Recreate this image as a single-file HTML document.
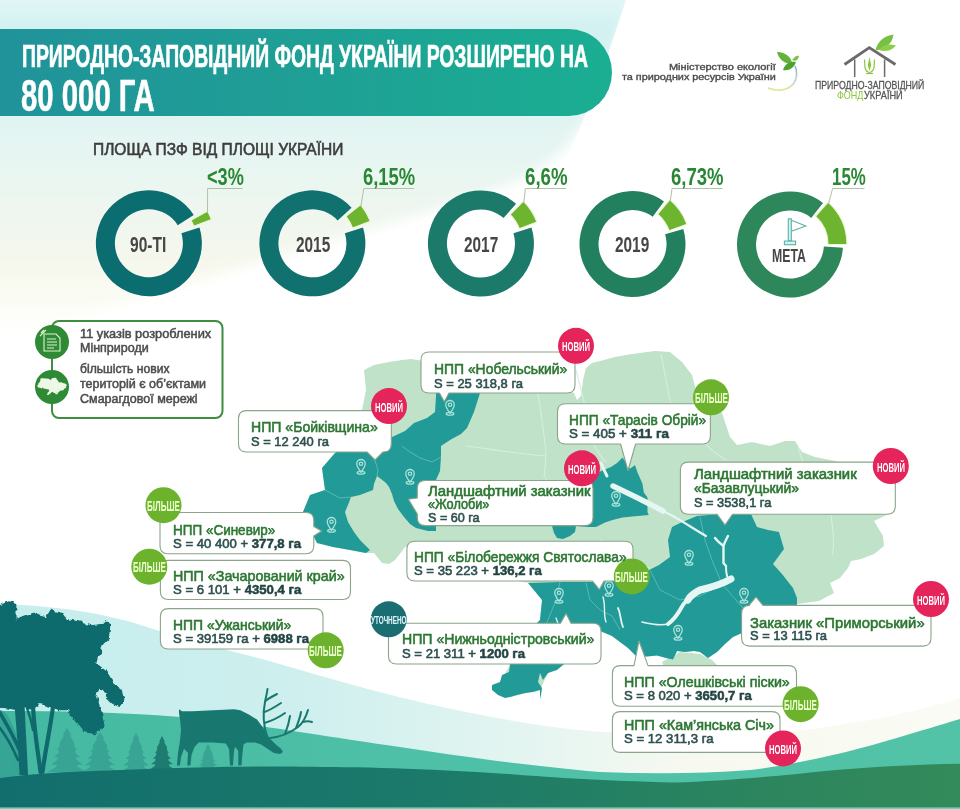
<!DOCTYPE html>
<html lang="uk"><head><meta charset="utf-8">
<title>Природно-заповідний фонд України розширено на 80 000 га</title>
<style>
*{margin:0;padding:0;box-sizing:border-box}
html,body{width:960px;height:809px;overflow:hidden;background:#fff}
body{position:relative;font-family:"Liberation Sans", "DejaVu Sans", sans-serif}
svg.full{position:absolute;left:0;top:0}
.t{position:absolute;white-space:nowrap;line-height:1;transform-origin:0 0}
.t b{font-weight:bold;color:#1f3f3d}
.banner{position:absolute;left:0;top:28.5px;width:612px;height:87px;border-radius:0 44px 44px 0;
  background:linear-gradient(90deg,#20939a 0%,#1f9e96 45%,#1aae92 100%)}
</style></head><body>
<svg class="full" width="960" height="809" viewBox="0 0 960 809">
<defs>
<linearGradient id="bgc" x1="0" y1="0" x2="0" y2="340" gradientUnits="userSpaceOnUse">
<stop offset="0" stop-color="#e2f6f6"/><stop offset="0.08" stop-color="#d2f1f1"/><stop offset="0.45" stop-color="#e6f5f2"/><stop offset="0.8" stop-color="#f7f8ec"/><stop offset="1" stop-color="#fbfbf3" stop-opacity="0"/>
</linearGradient>
<filter id="soft" x="-10%" y="-10%" width="120%" height="120%"><feGaussianBlur stdDeviation="6"/></filter>
<clipPath id="bgclip"><path d="M0,0 L626,0 L596,90 L560,175 L0,420 Z"/></clipPath>
</defs>
<g clip-path="url(#bgclip)"><path d="M-20,-20 L640,-20 L600,90 C585,130 560,160 520,180 C420,220 250,260 -20,350 Z" fill="url(#bgc)" filter="url(#soft)"/></g>
<path d="M193.7,215.0 A53,53 0 1 0 199.5,227.6 L181.4,233.3 A34,34 0 1 1 177.7,225.2 Z" fill="#0b6d6f"/>
<path d="M211.5,219.5 A67,67 0 0 0 207.6,211.0 L191.0,220.2 A48,48 0 0 1 193.8,226.3 Z" fill="#6db52f" stroke="#eef7d8" stroke-width="1.2"/>
<polyline points="207.5,213.0 207.6,188.5 242.5,188.5" fill="none" stroke="#b4c0a6" stroke-width="1"/>
<path d="M351.6,207.7 A53,53 0 1 0 363.0,227.6 L344.9,233.3 A34,34 0 1 1 337.6,220.5 Z" fill="#10716f"/>
<path d="M370.4,221.3 A62,62 0 0 0 360.7,204.5 L345.9,216.4 A43,43 0 0 1 352.6,228.1 Z" fill="#6db52f" stroke="#eef7d8" stroke-width="1.2"/>
<polyline points="360.9,206.4 363.8,188.5 414.0,188.5" fill="none" stroke="#b4c0a6" stroke-width="1"/>
<path d="M516.1,203.8 A53,53 0 1 0 531.5,227.6 L513.4,233.3 A34,34 0 1 1 503.5,218.0 Z" fill="#1b7a69"/>
<path d="M537.0,222.0 A60,60 0 0 0 523.4,201.1 L510.0,214.5 A41,41 0 0 1 519.3,228.8 Z" fill="#6db52f" stroke="#eef7d8" stroke-width="1.2"/>
<polyline points="523.8,202.9 525.4,188.5 566.1,188.5" fill="none" stroke="#b4c0a6" stroke-width="1"/>
<path d="M664.0,201.4 A53,53 0 1 0 683.3,228.9 L665.1,234.3 A34,34 0 1 1 652.7,216.7 Z" fill="#22805f"/>
<path d="M687.0,224.2 A58,58 0 0 0 669.8,199.6 L657.6,214.1 A39,39 0 0 1 669.1,230.7 Z" fill="#6db52f" stroke="#eef7d8" stroke-width="1.2"/>
<polyline points="670.3,201.3 672.0,188.5 722.5,188.5" fill="none" stroke="#b4c0a6" stroke-width="1"/>
<path d="M823.0,203.0 A53,53 0 1 0 842.9,247.7 L823.9,246.6 A34,34 0 1 1 811.2,217.9 Z" fill="#2d875a"/>
<path d="M847.0,244.5 A57,57 0 0 0 828.1,202.1 L815.4,216.3 A38,38 0 0 1 828.0,244.5 Z" fill="#6db52f" stroke="#eef7d8" stroke-width="1.2"/>
<polyline points="828.5,203.9 832.6,188.5 864.5,188.5" fill="none" stroke="#b4c0a6" stroke-width="1"/>
<g stroke="#5fb0a6" stroke-width="1.1" fill="#d2f4ef"><rect x="788.3" y="218.8" width="3" height="22"/><path d="M791.4,220.2 L805.8,226 L791.4,231.2" fill="none"/><rect x="784.4" y="241.1" width="11.2" height="3.6"/></g>
<rect x="52" y="321" width="170.5" height="97" rx="7" fill="#fff" stroke="#3f8d3f" stroke-width="2"/>
<circle cx="52" cy="342" r="17" fill="#2f8a35"/>
<circle cx="52" cy="387" r="17" fill="#2f8a35"/>
<g fill="none" stroke="#dff3d2" stroke-width="1.1"><path d="M44,334 L56,334 L60,338 L60,351 L44,351 Z"/><path d="M47,339 L56,339 M47,342 L57,342 M47,345 L57,345 M47,348 L54,348"/><path d="M40,336 L46,330 M41,333 L44,330"/></g>
<path d="M364,370 L374,365 L389,362 L402,360 L411,359 L430,362 L480,364 L530,372 L574,393 L577,400 L581,396 L583,380 L586,368 L592,363 L600,361 L615,357 L632,354 L655,351 L670,352 L682,362 L692,375 L696,390 L706,400 L716,405 L722,413 L726,425 L730,437 L737,445 L752,442 L770,446 L785,441 L795,441 L802,452 L815,457 L835,461 L860,466 L880,478 L893,495 L893,512 L874,521 L883,536 L884,546 L874,554 L861,559 L851,561 L848,568 L840,578 L830,583 L834,593 L819,601 L797,604 L780,606 L760,612 L748,622 L744,625 L742,633 L733,637 L725,644 L717,652 L708,658 L700,652 L694,651 L685,652 L677,651 L673,659.6 L668,658.5 L657,655.4 L647,656.5 L636,656 L628,648 L620,642 L612,636 L600,631 L590,640 L575,655 L563,665 L548,673 L540,690 L510,697 L492,690 L500,682 L510,665 L505,655 L520,640 L540,620 L542,600 L530,583 L500,578 L460,572 L430,566 L406,546 L395,560 L389,564 L382,563 L374,553 L366,553 L350,550 L333,547 L317,543 L313,535 L303,512 L310,495 L325,490 L322,468 L335,453 L345,445 L360,420 L366,390 Z" fill="#eef8e6" transform="translate(22.10,360.25) scale(0.05)"/>
<path d="M662,662 L680,652 L700,654 L712,660 L720,668 L700,680 L670,680 Z" fill="#eef8e6" transform="translate(22.10,360.25) scale(0.05)"/>
<defs><linearGradient id="arcg" x1="0" y1="0" x2="0" y2="1"><stop offset="0" stop-color="#8fb0c8"/><stop offset="0.6" stop-color="#b8d6e0"/><stop offset="1" stop-color="#e2e889"/></linearGradient></defs>
<path d="M795,66 C799,76 795,86 786,89 C780,91 773,90 768,88" fill="none" stroke="url(#arcg)" stroke-width="1.6"/>
<path d="M777,52 C786,52 792,58 792,64 C785,64 779,60 777,52 Z" fill="#63b33a"/>
<path d="M783,70 C785,63 791,61 796,62 C794,68 789,71 783,70 Z" fill="#4ea32f"/>
<path d="M792,60 C795,56 797,55 799,56 C798,60 796,62 792,60 Z" fill="#7cc14a"/>
<path d="M844.5,64.5 L869.3,47.6 L895.5,64.5" fill="none" stroke="#6a6a6a" stroke-width="2.8" stroke-linejoin="miter"/>
<path d="M854.7,59.5 L854.7,77 M884.6,59.5 L884.6,77" stroke="#6a6a6a" stroke-width="1.5"/>
<g fill="none" stroke="#8cc63f" stroke-width="1.2"><path d="M864.5,59.5 L865,68 Q866.5,72 869.5,72.5 Q872.5,72 874,68 L874.5,59.5"/><path d="M866,73.5 L873,73.5"/></g>
<path d="M869.5,57 L871.2,65 L869.5,71 L867.8,65 Z" fill="#8cc63f"/>
<path d="M875.5,50.5 C877,42 884,35.5 893.5,34.5 C892.5,43 886,49.5 875.5,50.5 Z" fill="#78c043"/>
<path d="M879,50 C883,44.5 889.5,43.5 896,45.5 C891.5,51 885,52 879,50 Z" fill="#8ccf4c"/>
<linearGradient id="skyg" x1="0" y1="0" x2="1" y2="0">
<stop offset="0" stop-color="#c6eded"/><stop offset="0.3" stop-color="#cdefee"/><stop offset="0.55" stop-color="#e4f5f1"/><stop offset="0.72" stop-color="#f7f9f0"/><stop offset="1" stop-color="#fafbf4"/></linearGradient>
<linearGradient id="hillg" x1="0" y1="0" x2="1" y2="0">
<stop offset="0" stop-color="#45b8a1"/><stop offset="0.4" stop-color="#4ec0a7"/><stop offset="1" stop-color="#52c3a6"/></linearGradient>
<linearGradient id="groundg" x1="0" y1="0" x2="1" y2="0">
<stop offset="0" stop-color="#116e6d"/><stop offset="0.45" stop-color="#1b7a6a"/><stop offset="0.75" stop-color="#2a845f"/><stop offset="1" stop-color="#338a5a"/></linearGradient>
<path d="M0,604 C60,606 110,614 150,628 C200,645 240,652 290,667 C380,694 470,716 560,728 C650,738 740,738 820,728 C880,720 930,708 960,698 L960,809 L0,809 Z" fill="url(#skyg)"/>
<path d="M0,711 C60,711 120,712 180,717 C260,724 300,733 400,747 C460,756 520,765 600,772 C650,774 700,774 750,770 C800,764 850,752 900,737 C930,728 950,722 960,719 L960,809 L0,809 Z" fill="url(#hillg)"/>
<path d="M0,712 C8,716 14,724 18,740 L20,775 L0,778 Z" fill="#36a494"/>
<path d="M67.0,728.0 L71.4,735.3 L62.6,735.3 Z M67.0,730.9 L74.3,742.7 L59.7,742.7 Z M67.0,738.3 L77.2,750.0 L56.8,750.0 Z M67.0,745.6 L80.2,757.3 L53.8,757.3 Z M67.0,752.9 L83.1,764.7 L50.9,764.7 Z M67.0,760.3 L86.0,772.0 L48.0,772.0 Z M60.2,741.2 L73.8,741.2 L78.4,772.0 L55.6,772.0 Z" fill="#37a494"/>
<path d="M100.0,732.0 L104.2,738.7 L95.8,738.7 Z M100.0,734.7 L106.9,745.3 L93.1,745.3 Z M100.0,741.3 L109.7,752.0 L90.3,752.0 Z M100.0,748.0 L112.5,758.7 L87.5,758.7 Z M100.0,754.7 L115.2,765.3 L84.8,765.3 Z M100.0,761.3 L118.0,772.0 L82.0,772.0 Z M93.5,744.0 L106.5,744.0 L110.8,772.0 L89.2,772.0 Z" fill="#37a494"/>
<path d="M136.0,733.0 L139.5,739.5 L132.5,739.5 Z M136.0,735.6 L141.8,746.0 L130.2,746.0 Z M136.0,742.1 L144.1,752.5 L127.9,752.5 Z M136.0,748.6 L146.4,759.0 L125.6,759.0 Z M136.0,755.1 L148.7,765.5 L123.3,765.5 Z M136.0,761.6 L151.0,772.0 L121.0,772.0 Z M130.6,744.7 L141.4,744.7 L145.0,772.0 L127.0,772.0 Z" fill="#37a494"/>
<path d="M162.0,736.0 L165.0,741.7 L159.0,741.7 Z M162.0,738.3 L167.0,747.3 L157.0,747.3 Z M162.0,743.9 L169.0,753.0 L155.0,753.0 Z M162.0,749.6 L171.0,758.7 L153.0,758.7 Z M162.0,755.3 L173.0,764.3 L151.0,764.3 Z M162.0,760.9 L175.0,770.0 L149.0,770.0 Z M157.3,746.2 L166.7,746.2 L169.8,770.0 L154.2,770.0 Z" fill="#1e7b72"/>
<path d="M208.0,744.0 L210.5,748.3 L205.5,748.3 Z M208.0,745.7 L212.2,752.7 L203.8,752.7 Z M208.0,750.1 L213.9,757.0 L202.1,757.0 Z M208.0,754.4 L215.6,761.3 L200.4,761.3 Z M208.0,758.7 L217.3,765.7 L198.7,765.7 Z M208.0,763.1 L219.0,770.0 L197.0,770.0 Z M204.0,751.8 L212.0,751.8 L214.6,770.0 L201.4,770.0 Z" fill="#37a494"/>
<path d="M0,778 C30,774 60,772 120,770 C200,767 260,766 300,766.7 C360,767 420,768 508,774 C560,778 600,780.6 675,782.5 C720,781 780,776 825,771 C870,767 920,764 960,763.7 L960,809 L0,809 Z" fill="url(#groundg)"/>
<rect x="0" y="807.4" width="960" height="1.6" fill="#78cfb6"/>
<filter id="rough" x="-5%" y="-5%" width="110%" height="110%"><feTurbulence type="fractalNoise" baseFrequency="0.18" numOctaves="2" seed="3"/><feDisplacementMap in="SourceGraphic" scale="5" xChannelSelector="R" yChannelSelector="G"/></filter>
<path d="M-6,611 L0,606 L5,604 L9,602 L15.5,603.5 L16,621 L23,616.6 L32.5,613.5 L40,616.6 L46.4,618 L51,610.5 L54,612 L61.8,613.5 L66.5,619.7 L74,621.3 L83.5,622.8 L92.7,626 L102,624.4 L106.6,622 L109.7,624.4 L108.2,638.3 L102,644.5 L99,655.3 L94.3,661.5 L99,666 L106.6,672.3 L112.8,683 L120.6,689.3 L123.6,700 L119,706.3 L112.8,703.2 L106.6,697 L108.2,692.4 L99,687.7 L95.8,695.5 L101.3,713.6 L103.8,726 L94,733.4 L84,731 L71.7,716 L69.6,709.4 L58.7,709.4 L51,706.3 L40.2,703.2 L30.9,707.8 L23.2,706.3 L15.5,709.4 L7.7,707.8 L-6,706.3 Z" fill="#106a6d" stroke="#106a6d" stroke-width="1.5" stroke-linejoin="round" filter="url(#rough)"/>
<path d="M0,710 C6,712 10,716 13,730 L14,774 L0,776 Z" fill="#37a596"/>
<path d="M14.5,704 C16,726 18.5,750 19.5,775 L28,775 C27,750 25.5,728 24.5,704 Z" fill="#106a6d"/>
<g fill="none" stroke="#106a6d" stroke-linecap="round"><path d="M33,705 C34,730 38,752 40.5,772" stroke-width="4.2"/><path d="M53,707 C50,730 45,752 42.5,772" stroke-width="4.2"/><path d="M0,713 C7,725 14,737 19,749" stroke-width="3.6"/><path d="M0,728 C6,736 12,746 18,760" stroke-width="2.6"/><path d="M27,708 C30,716 32,724 33,730" stroke-width="2.4"/></g>
<path d="M179,709.2 L182,711.3 L192.5,711.3 L213,710.2 L234,709.2 L240.4,710.2 L248.8,714.4 L257,719.6 L263.3,728 L269.6,738.3 L275.8,744.6 L281,748.8 L283,752 L280,754 L273.8,753 L267.5,748.8 L261,744.6 L255,742.5 L246.7,742.5 L243.5,744.6 L242.5,753 L241.5,765.4 L238.3,765.4 L238.3,751 L235,746.7 L234,751 L233,765.4 L230,765.4 L229,748.8 L225.8,743.5 L213,742.5 L198.8,742.5 L194.6,746.7 L191.5,755 L190.4,765.4 L187.3,765.4 L188,753 L184,748.8 L181,757 L180,765.4 L176.9,765.4 L178,753 L180,740.4 L181,730 L180,719.6 L179,713.3 Z" fill="#187870"/>
<g fill="none" stroke="#187870" stroke-width="2" stroke-linecap="round" stroke-linejoin="round"><path d="M267,736 C263,724 263,712 265,702 C266,697 267,693 267.5,689"/><path d="M265.5,701 C269,698 273,696 277,694"/><path d="M264.5,712 C270,710 275,707 281,703"/><path d="M264.5,723 C271,721 278,718 285,713"/><path d="M270,738 C280,737 290,733 298,727 C303,723 306,717 308,710"/><path d="M285,734 C287,729 289,723 290,716"/><path d="M296,728 C298,723 300,718 301,712"/><path d="M303,722 C306,721 309,721 312,722"/></g>
<path d="M364,370 L374,365 L389,362 L402,360 L411,359 L430,362 L480,364 L530,372 L574,393 L577,400 L581,396 L583,380 L586,368 L592,363 L600,361 L615,357 L632,354 L655,351 L670,352 L682,362 L692,375 L696,390 L706,400 L716,405 L722,413 L726,425 L730,437 L737,445 L752,442 L770,446 L785,441 L795,441 L802,452 L815,457 L835,461 L860,466 L880,478 L893,495 L893,512 L874,521 L883,536 L884,546 L874,554 L861,559 L851,561 L848,568 L840,578 L830,583 L834,593 L819,601 L797,604 L780,606 L760,612 L748,622 L744,625 L742,633 L733,637 L725,644 L717,652 L708,658 L700,652 L694,651 L685,652 L677,651 L673,659.6 L668,658.5 L657,655.4 L647,656.5 L636,656 L628,648 L620,642 L612,636 L600,631 L590,640 L575,655 L563,665 L548,673 L540,690 L510,697 L492,690 L500,682 L510,665 L505,655 L520,640 L540,620 L542,600 L530,583 L500,578 L460,572 L430,566 L406,546 L395,560 L389,564 L382,563 L374,553 L366,553 L350,550 L333,547 L317,543 L313,535 L303,512 L310,495 L325,490 L322,468 L335,453 L345,445 L360,420 L366,390 Z" fill="#c0e2c9"/>
<path d="M662,662 L680,652 L700,654 L712,660 L720,668 L700,680 L670,680 Z" fill="#c0e2c9"/>
<g fill="none" stroke="#d6eee0" stroke-width="1.1" stroke-linejoin="round"><path d="M538,394 C541,410 543,430 546,450 C546,460 545,470 544,478"/><path d="M466,446 C490,449 520,454 546,456"/><path d="M576,370 C580,385 584,400 588,421 C590,440 596,452 606,462"/><path d="M661,354 C664,370 667,385 670,400 C672,410 678,420 690,425"/><path d="M690,425 C700,440 712,452 726,460"/><path d="M798,446 C805,470 812,490 816,515"/><path d="M831,515 C833,530 835,545 832,555"/><path d="M600,540 C615,555 630,562 650,568"/><path d="M546,478 C552,500 556,515 560,530"/><path d="M392,437 C380,440 372,444 368,452"/></g>
<path d="M436,393 L480,393 L474,412 L467,428 L461,434 L450,440 L441,446 L441,457 L440,471 L436,480 L436,500 L436,531 L428,531 L416,528 L410,524 L404,517 L398,509 L394,501 L392,494 L389,487 L386,483 L381,479 L377,476 L374,484 L373,490 L360,495 L351,497 L348,505 L345,512 L348,522 L354,532 L360,540 L370,550 L366,553 L350,550 L333,547 L317,543 L313,535 L303,512 L310,495 L325,490 L322,468 L335,453 L345,447 L386,443 L392,437 L405,431 L414,423 L427,418 L435,412 L436,396 Z" fill="#229b98"/>
<path d="M622.5,457.5 L630,468.8 L635,465 L637.5,472.5 L642.5,483.8 L643.8,492.5 L647.5,497.5 L647.5,512.5 L648.8,515 L635,516.3 L622.5,517.5 L612.5,520 L605,522.5 L596,527 L588,527 L576,526 L575,532 L570,536 L563,539 L557,538 L554,533 L552,526 L560,515 L575,500 L586,482 L601,471 L611,467 L617,463 Z" fill="#229b98"/>
<path d="M672,527 L680,523 L697,516 L720,514 L751,514 L757,527 L768,530 L779,532 L784,549 L773,564 L782,574 L793,588 L797,598 L797,606 L760,612 L748,622 L744,625 L742,633 L733,637 L725,644 L717,652 L708,658 L700,652 L694,651 L685,652 L677,651 L673,659.6 L668,658.5 L657,655.4 L647,656.5 L636,656 L628,648 L620,642 L612,636 L600,631 L590,640 L575,655 L563,665 L557,670 L548,673 L543,680 L540,673 L538,682 L542,688 L541,695 L540,699 L540,690 L533,692 L525,693 L517,695 L510,697 L505,698 L498,695 L492,690 L492,685 L500,682 L502,675 L509,672 L510,665 L505,655 L520,640 L540,620 L542,600 L528,583 L560,582 L600,582 L630,580 L645,572 L659,565 L670,557 L668,540 Z" fill="#229b98"/>
<g fill="none" stroke="#6cc3bd" stroke-width="0.9" opacity="0.8"><path d="M402,446 L410,452 L420,458 L432,462 L441,457"/><path d="M372,452 L378,470 L377,476"/><path d="M325,490 L340,498 L351,497"/><path d="M586,583 L590,600 L600,610 L612,616 L620,630"/><path d="M650,570 L660,590 L680,600 L700,596 L722,584"/><path d="M722,584 L736,600 L748,614 L760,628"/><path d="M700,517 L705,540 L712,560 L722,584"/><path d="M560,582 L556,600 L548,620 L540,635"/></g>
<g fill="none" stroke="#e6f6f3" stroke-linecap="round" stroke-linejoin="round"><path d="M613,486 C630,494 648,503 663,511" stroke-width="5.5"/><path d="M601,463 C603,468 605,472 607,476" stroke-width="3"/><path d="M663,511 C675,516 692,528 706,536" stroke-width="2.2"/><path d="M715,538 C718,542 721,544 723.5,546 M728,536 C726,540 724,543 723.5,546 L723.5,563 L726,566" stroke-width="2.4"/><path d="M726,566 C726,574 727,579 730,581" stroke-width="2"/><path d="M731,580 C722,586 710,589 698,592 C690,596 684,602 680,610 C676,617 672,621 668,624" stroke-width="4"/><path d="M731,579 C722,584 712,587 700,590 C694,593 690,596 688,600" stroke-width="7"/><path d="M668,624 C660,626 650,624 642,622" stroke-width="1.6"/><path d="M618,608 C621,614 620,620 623,627" stroke-width="1.8"/><path d="M603,597 C606,607 603,614 606,622" stroke-width="1.4"/><path d="M556,618 C560,628 563,640 568,650" stroke-width="1.3"/></g>
<g fill="none" stroke="#a9e2da" stroke-width="1.5" transform="translate(450,409) scale(0.85) translate(-450,-409)"><path d="M450,414 C447,410 445,407 445,404 A5,5 0 1 1 455,404 C455,407 453,410 450,414 Z"/><circle cx="450" cy="404" r="2"/><ellipse cx="450" cy="414.5" rx="4.5" ry="1.6"/></g>
<g fill="none" stroke="#a9e2da" stroke-width="1.5" transform="translate(361,468) scale(0.85) translate(-361,-468)"><path d="M361,473 C358,469 356,466 356,463 A5,5 0 1 1 366,463 C366,466 364,469 361,473 Z"/><circle cx="361" cy="463" r="2"/><ellipse cx="361" cy="473.5" rx="4.5" ry="1.6"/></g>
<g fill="none" stroke="#a9e2da" stroke-width="1.5" transform="translate(410,478) scale(0.85) translate(-410,-478)"><path d="M410,483 C407,479 405,476 405,473 A5,5 0 1 1 415,473 C415,476 413,479 410,483 Z"/><circle cx="410" cy="473" r="2"/><ellipse cx="410" cy="483.5" rx="4.5" ry="1.6"/></g>
<g fill="none" stroke="#a9e2da" stroke-width="1.5" transform="translate(331.5,526) scale(0.85) translate(-331.5,-526)"><path d="M331.5,531 C328.5,527 326.5,524 326.5,521 A5,5 0 1 1 336.5,521 C336.5,524 334.5,527 331.5,531 Z"/><circle cx="331.5" cy="521" r="2"/><ellipse cx="331.5" cy="531.5" rx="4.5" ry="1.6"/></g>
<g fill="none" stroke="#a9e2da" stroke-width="1.5" transform="translate(616,500) scale(0.85) translate(-616,-500)"><path d="M616,505 C613,501 611,498 611,495 A5,5 0 1 1 621,495 C621,498 619,501 616,505 Z"/><circle cx="616" cy="495" r="2"/><ellipse cx="616" cy="505.5" rx="4.5" ry="1.6"/></g>
<g fill="none" stroke="#a9e2da" stroke-width="1.5" transform="translate(559,597) scale(0.85) translate(-559,-597)"><path d="M559,602 C556,598 554,595 554,592 A5,5 0 1 1 564,592 C564,595 562,598 559,602 Z"/><circle cx="559" cy="592" r="2"/><ellipse cx="559" cy="602.5" rx="4.5" ry="1.6"/></g>
<g fill="none" stroke="#a9e2da" stroke-width="1.5" transform="translate(609,590) scale(0.85) translate(-609,-590)"><path d="M609,595 C606,591 604,588 604,585 A5,5 0 1 1 614,585 C614,588 612,591 609,595 Z"/><circle cx="609" cy="585" r="2"/><ellipse cx="609" cy="595.5" rx="4.5" ry="1.6"/></g>
<g fill="none" stroke="#a9e2da" stroke-width="1.5" transform="translate(689,559) scale(0.85) translate(-689,-559)"><path d="M689,564 C686,560 684,557 684,554 A5,5 0 1 1 694,554 C694,557 692,560 689,564 Z"/><circle cx="689" cy="554" r="2"/><ellipse cx="689" cy="564.5" rx="4.5" ry="1.6"/></g>
<g fill="none" stroke="#a9e2da" stroke-width="1.5" transform="translate(678,634) scale(0.85) translate(-678,-634)"><path d="M678,639 C675,635 673,632 673,629 A5,5 0 1 1 683,629 C683,632 681,635 678,639 Z"/><circle cx="678" cy="629" r="2"/><ellipse cx="678" cy="639.5" rx="4.5" ry="1.6"/></g>
<g fill="none" stroke="#a9e2da" stroke-width="1.5" transform="translate(744,597) scale(0.85) translate(-744,-597)"><path d="M744,602 C741,598 739,595 739,592 A5,5 0 1 1 749,592 C749,595 747,598 744,602 Z"/><circle cx="744" cy="592" r="2"/><ellipse cx="744" cy="602.5" rx="4.5" ry="1.6"/></g>
<path d="M429,352 L567,352 Q575,352 575,360 L575,385 Q575,393 567,393 L449,393 L444.3,401.7 L439.5,393 L429,393 Q421,393 421,385 L421,360 Q421,352 429,352 Z" fill="#fff" stroke="#8ba48a" stroke-width="1.1" stroke-linejoin="round"/>
<path d="M246.5,410.6 L383.3,410.6 Q391.3,410.6 391.3,418.6 L391.3,444 Q391.3,452 383.3,452 L383,452 L375,460 L367,452 L246.5,452 Q238.5,452 238.5,444 L238.5,418.6 Q238.5,410.6 246.5,410.6 Z" fill="#fff" stroke="#8ba48a" stroke-width="1.1" stroke-linejoin="round"/>
<path d="M565.5,403.8 L702.4,403.8 Q710.4,403.8 710.4,411.8 L710.4,436 Q710.4,444 702.4,444 L635.6,444 L628,470.5 L620.6,444 L565.5,444 Q557.5,444 557.5,436 L557.5,411.8 Q557.5,403.8 565.5,403.8 Z" fill="#fff" stroke="#8ba48a" stroke-width="1.1" stroke-linejoin="round"/>
<path d="M425.3,480.5 L585,480.5 Q593,480.5 593,488.5 L593,517.6 Q593,525.6 585,525.6 L425.3,525.6 Q417.3,525.6 417.3,517.6 L417.3,514 L408.4,499.2 L417.3,498 L417.3,488.5 Q417.3,480.5 425.3,480.5 Z" fill="#fff" stroke="#8ba48a" stroke-width="1.1" stroke-linejoin="round"/>
<path d="M688.4,462.1 L887.3,462.1 Q895.3,462.1 895.3,470.1 L895.3,506.20000000000005 Q895.3,514.2 887.3,514.2 L732.5,514.2 L725,525 L717,514.2 L688.4,514.2 Q680.4,514.2 680.4,506.20000000000005 L680.4,470.1 Q680.4,462.1 688.4,462.1 Z" fill="#fff" stroke="#8ba48a" stroke-width="1.1" stroke-linejoin="round"/>
<path d="M168,512.5 L305.8,512.5 Q313.8,512.5 313.8,520.5 L313.8,526.5 L321.6,531 L313.8,536 L313.8,545.8 Q313.8,553.8 305.8,553.8 L168,553.8 Q160,553.8 160,545.8 L160,520.5 Q160,512.5 168,512.5 Z" fill="#fff" stroke="#8ba48a" stroke-width="1.1" stroke-linejoin="round"/>
<path d="M168.4,560.4 L342.5,560.4 Q350.5,560.4 350.5,568.4 L350.5,591.5 Q350.5,599.5 342.5,599.5 L168.4,599.5 Q160.4,599.5 160.4,591.5 L160.4,568.4 Q160.4,560.4 168.4,560.4 Z" fill="#fff" stroke="#8ba48a" stroke-width="1.1" stroke-linejoin="round"/>
<path d="M168.4,608.6 L315,608.6 Q323,608.6 323,616.6 L323,641 Q323,649 315,649 L168.4,649 Q160.4,649 160.4,641 L160.4,616.6 Q160.4,608.6 168.4,608.6 Z" fill="#fff" stroke="#8ba48a" stroke-width="1.1" stroke-linejoin="round"/>
<path d="M414.9,541.3 L625,541.3 Q633,541.3 633,549.3 L633,573 Q633,581 625,581 L604,581 L599.4,589.5 L592.5,581 L414.9,581 Q406.9,581 406.9,573 L406.9,549.3 Q406.9,541.3 414.9,541.3 Z" fill="#fff" stroke="#8ba48a" stroke-width="1.1" stroke-linejoin="round"/>
<path d="M396.5,623.2 L560.5,623.2 L566,613.5 L571,623.2 L593,623.2 Q601,623.2 601,631.2 L601,656 Q601,664 593,664 L396.5,664 Q388.5,664 388.5,656 L388.5,631.2 Q388.5,623.2 396.5,623.2 Z" fill="#fff" stroke="#8ba48a" stroke-width="1.1" stroke-linejoin="round"/>
<path d="M749.6,605.4 L749,605.4 L756,597 L763,605.4 L923,605.4 Q931,605.4 931,613.4 L931,638.1 Q931,646.1 923,646.1 L749.6,646.1 Q741.6,646.1 741.6,638.1 L741.6,613.4 Q741.6,605.4 749.6,605.4 Z" fill="#fff" stroke="#8ba48a" stroke-width="1.1" stroke-linejoin="round"/>
<path d="M620.4,665.6 L634,665.6 L639,641 L648,665.6 L788.5,665.6 Q796.5,665.6 796.5,673.6 L796.5,698.3 Q796.5,706.3 788.5,706.3 L620.4,706.3 Q612.4,706.3 612.4,698.3 L612.4,673.6 Q612.4,665.6 620.4,665.6 Z" fill="#fff" stroke="#8ba48a" stroke-width="1.1" stroke-linejoin="round"/>
<path d="M620.4,711.6 L772,711.6 Q780,711.6 780,719.6 L780,744.4 Q780,752.4 772,752.4 L620.4,752.4 Q612.4,752.4 612.4,744.4 L612.4,719.6 Q612.4,711.6 620.4,711.6 Z" fill="#fff" stroke="#8ba48a" stroke-width="1.1" stroke-linejoin="round"/>
<circle cx="576" cy="345.8" r="18" fill="#e4245a"/>
<circle cx="389" cy="406.1" r="18" fill="#e4245a"/>
<circle cx="711" cy="397.3" r="18" fill="#6cb22d"/>
<circle cx="582" cy="468.3" r="18" fill="#e4245a"/>
<circle cx="890.8" cy="466" r="18" fill="#e4245a"/>
<circle cx="163.5" cy="505.2" r="18" fill="#6cb22d"/>
<circle cx="149.3" cy="566.7" r="18" fill="#6cb22d"/>
<circle cx="325.7" cy="650.3" r="18" fill="#6cb22d"/>
<circle cx="631.8" cy="576.4" r="18" fill="#6cb22d"/>
<circle cx="388.7" cy="619.3" r="18" fill="#1a6e72"/>
<circle cx="931" cy="599" r="18" fill="#e4245a"/>
<circle cx="800.6" cy="704.2" r="18" fill="#6cb22d"/>
<circle cx="783" cy="748.4" r="18" fill="#e4245a"/>
</svg>
<div class="banner"></div>
<div class="t" style="left:21.7px;top:39.9px;font-size:31.98px;font-weight:bold;color:#fff;transform:scaleX(0.605);-webkit-text-stroke:0.7px #fff;">ПРИРОДНО-ЗАПОВІДНИЙ ФОНД УКРАЇНИ РОЗШИРЕНО НА</div>
<div class="t" style="left:21.3px;top:72.5px;font-size:45.2px;font-weight:bold;color:#fff;transform:scaleX(0.649);-webkit-text-stroke:0.6px #fff;">80 000 ГА</div>
<div class="t" style="left:93.4px;top:140.7px;font-size:16.28px;font-weight:normal;color:#3d3d3d;transform:scaleX(0.954);-webkit-text-stroke:0.6px #3d3d3d;">ПЛОЩА ПЗФ ВІД ПЛОЩІ УКРАЇНИ</div>
<div class="t" style="left:206.9px;top:164.5px;font-size:24.56px;font-weight:bold;color:#2a8733;transform:scaleX(0.740);">&lt;3%</div>
<div class="t" style="left:363.1px;top:164.5px;font-size:24.56px;font-weight:bold;color:#2a8733;transform:scaleX(0.750);">6,15%</div>
<div class="t" style="left:524.7px;top:164.5px;font-size:24.56px;font-weight:bold;color:#2a8733;transform:scaleX(0.763);">6,6%</div>
<div class="t" style="left:671.3px;top:164.5px;font-size:24.56px;font-weight:bold;color:#2a8733;transform:scaleX(0.754);">6,73%</div>
<div class="t" style="left:831.9px;top:164.5px;font-size:24.56px;font-weight:bold;color:#2a8733;transform:scaleX(0.687);">15%</div>
<div class="t" style="left:130.4px;top:233.5px;font-size:21.8px;font-weight:bold;color:#464646;transform:scaleX(0.712);">90-ТІ</div>
<div class="t" style="left:295.9px;top:233.5px;font-size:21.8px;font-weight:bold;color:#464646;transform:scaleX(0.706);">2015</div>
<div class="t" style="left:463.9px;top:233.5px;font-size:21.8px;font-weight:bold;color:#464646;transform:scaleX(0.706);">2017</div>
<div class="t" style="left:615.4px;top:233.5px;font-size:21.8px;font-weight:bold;color:#464646;transform:scaleX(0.706);">2019</div>
<div class="t" style="left:772.0px;top:247.0px;font-size:18.9px;font-weight:bold;color:#464646;transform:scaleX(0.649);">МЕТА</div>
<div class="t" style="left:433.8px;top:361.2px;font-size:15.12px;font-weight:normal;color:#2c7733;transform:scaleX(0.920);-webkit-text-stroke:0.6px #2c7733;">НПП «Нобельський»</div>
<div class="t" style="left:433.9px;top:376.6px;font-size:13.52px;font-weight:normal;color:#2d504d;transform:scaleX(0.958);-webkit-text-stroke:0.6px #2d504d;">S = 25 318,8 га</div>
<div class="t" style="left:561.7px;top:341.3px;font-size:12.5px;font-weight:bold;color:#fff;transform:scaleX(0.612);">НОВИЙ</div>
<div class="t" style="left:251.0px;top:419.4px;font-size:15.12px;font-weight:normal;color:#2c7733;transform:scaleX(0.932);-webkit-text-stroke:0.6px #2c7733;">НПП «Бойківщина»</div>
<div class="t" style="left:251.1px;top:434.6px;font-size:13.52px;font-weight:normal;color:#2d504d;transform:scaleX(0.955);-webkit-text-stroke:0.6px #2d504d;">S = 12 240 га</div>
<div class="t" style="left:374.7px;top:401.6px;font-size:12.5px;font-weight:bold;color:#fff;transform:scaleX(0.612);">НОВИЙ</div>
<div class="t" style="left:569.2px;top:411.6px;font-size:15.12px;font-weight:normal;color:#2c7733;transform:scaleX(0.907);-webkit-text-stroke:0.6px #2c7733;">НПП «Тарасів Обрій»</div>
<div class="t" style="left:569.2px;top:426.6px;font-size:13.52px;font-weight:normal;color:#2d504d;transform:scaleX(0.988);-webkit-text-stroke:0.6px #2d504d;">S = 405 + <b>311 га</b></div>
<div class="t" style="left:694.6px;top:390.6px;font-size:14.24px;font-weight:bold;color:#eaffcc;transform:scaleX(0.564);">БІЛЬШЕ</div>
<div class="t" style="left:428.2px;top:484.5px;font-size:13.95px;font-weight:normal;color:#2c7733;transform:scaleX(1.066);-webkit-text-stroke:0.6px #2c7733;">Ландшафтний заказник</div>
<div class="t" style="left:428.3px;top:497.8px;font-size:13.95px;font-weight:normal;color:#2c7733;transform:scaleX(0.910);-webkit-text-stroke:0.6px #2c7733;">«Жолоби»</div>
<div class="t" style="left:428.3px;top:510.6px;font-size:13.66px;font-weight:normal;color:#2d504d;transform:scaleX(0.923);-webkit-text-stroke:0.6px #2d504d;">S = 60 га</div>
<div class="t" style="left:567.7px;top:463.8px;font-size:12.5px;font-weight:bold;color:#fff;transform:scaleX(0.612);">НОВИЙ</div>
<div class="t" style="left:694.1px;top:467.9px;font-size:13.95px;font-weight:normal;color:#2c7733;transform:scaleX(1.067);-webkit-text-stroke:0.6px #2c7733;">Ландшафтний заказник</div>
<div class="t" style="left:694.1px;top:481.5px;font-size:13.95px;font-weight:normal;color:#2c7733;transform:scaleX(0.994);-webkit-text-stroke:0.6px #2c7733;">«Базавлуцький»</div>
<div class="t" style="left:694.2px;top:496.0px;font-size:13.66px;font-weight:normal;color:#2d504d;transform:scaleX(0.937);-webkit-text-stroke:0.6px #2d504d;">S = 3538,1 га</div>
<div class="t" style="left:876.5px;top:461.5px;font-size:12.5px;font-weight:bold;color:#fff;transform:scaleX(0.612);">НОВИЙ</div>
<div class="t" style="left:173.3px;top:522.2px;font-size:15.12px;font-weight:normal;color:#2c7733;transform:scaleX(0.893);-webkit-text-stroke:0.6px #2c7733;">НПП «Синевир»</div>
<div class="t" style="left:173.3px;top:536.9px;font-size:13.52px;font-weight:normal;color:#2d504d;transform:scaleX(0.971);-webkit-text-stroke:0.6px #2d504d;">S = 40 400 + <b>377,8 га</b></div>
<div class="t" style="left:147.1px;top:498.5px;font-size:14.24px;font-weight:bold;color:#eaffcc;transform:scaleX(0.564);">БІЛЬШЕ</div>
<div class="t" style="left:172.8px;top:567.9px;font-size:15.12px;font-weight:normal;color:#2c7733;transform:scaleX(0.946);-webkit-text-stroke:0.6px #2c7733;">НПП «Зачарований край»</div>
<div class="t" style="left:172.9px;top:582.9px;font-size:13.52px;font-weight:normal;color:#2d504d;transform:scaleX(0.973);-webkit-text-stroke:0.6px #2d504d;">S = 6 101 + <b>4350,4 га</b></div>
<div class="t" style="left:132.9px;top:560.0px;font-size:14.24px;font-weight:bold;color:#eaffcc;transform:scaleX(0.564);">БІЛЬШЕ</div>
<div class="t" style="left:172.8px;top:616.6px;font-size:15.12px;font-weight:normal;color:#2c7733;transform:scaleX(0.921);-webkit-text-stroke:0.6px #2c7733;">НПП «Ужанський»</div>
<div class="t" style="left:172.9px;top:632.4px;font-size:13.52px;font-weight:normal;color:#2d504d;transform:scaleX(0.970);-webkit-text-stroke:0.6px #2d504d;">S = 39159 га + <b>6988 га</b></div>
<div class="t" style="left:309.3px;top:643.6px;font-size:14.24px;font-weight:bold;color:#eaffcc;transform:scaleX(0.564);">БІЛЬШЕ</div>
<div class="t" style="left:414.1px;top:548.7px;font-size:15.12px;font-weight:normal;color:#2c7733;transform:scaleX(0.910);-webkit-text-stroke:0.6px #2c7733;">НПП «Білобережжя Святослава»</div>
<div class="t" style="left:414.2px;top:564.2px;font-size:13.52px;font-weight:normal;color:#2d504d;transform:scaleX(0.969);-webkit-text-stroke:0.6px #2d504d;">S = 35 223 + <b>136,2 га</b></div>
<div class="t" style="left:615.4px;top:569.7px;font-size:14.24px;font-weight:bold;color:#eaffcc;transform:scaleX(0.564);">БІЛЬШЕ</div>
<div class="t" style="left:402.1px;top:631.1px;font-size:15.12px;font-weight:normal;color:#2c7733;transform:scaleX(0.934);-webkit-text-stroke:0.6px #2c7733;">НПП «Нижньодністровський»</div>
<div class="t" style="left:402.2px;top:646.6px;font-size:13.52px;font-weight:normal;color:#2d504d;transform:scaleX(0.968);-webkit-text-stroke:0.6px #2d504d;">S = 21 311 + <b>1200 га</b></div>
<div class="t" style="left:370.9px;top:613.6px;font-size:11.77px;font-weight:bold;color:#e6fbff;transform:scaleX(0.541);">УТОЧНЕНО</div>
<div class="t" style="left:749.9px;top:614.6px;font-size:15.12px;font-weight:normal;color:#2c7733;transform:scaleX(0.982);-webkit-text-stroke:0.6px #2c7733;">Заказник «Приморський»</div>
<div class="t" style="left:750.0px;top:629.4px;font-size:13.52px;font-weight:normal;color:#2d504d;transform:scaleX(0.955);-webkit-text-stroke:0.6px #2d504d;">S = 13 115 га</div>
<div class="t" style="left:916.7px;top:594.5px;font-size:12.5px;font-weight:bold;color:#fff;transform:scaleX(0.612);">НОВИЙ</div>
<div class="t" style="left:624.2px;top:674.1px;font-size:15.12px;font-weight:normal;color:#2c7733;transform:scaleX(0.941);-webkit-text-stroke:0.6px #2c7733;">НПП «Олешківські піски»</div>
<div class="t" style="left:624.3px;top:689.0px;font-size:13.52px;font-weight:normal;color:#2d504d;transform:scaleX(0.968);-webkit-text-stroke:0.6px #2d504d;">S = 8 020 + <b>3650,7 га</b></div>
<div class="t" style="left:784.2px;top:697.5px;font-size:14.24px;font-weight:bold;color:#eaffcc;transform:scaleX(0.564);">БІЛЬШЕ</div>
<div class="t" style="left:624.2px;top:716.8px;font-size:15.12px;font-weight:normal;color:#2c7733;transform:scaleX(0.947);-webkit-text-stroke:0.6px #2c7733;">НПП «Кам’янська Січ»</div>
<div class="t" style="left:624.3px;top:732.1px;font-size:13.52px;font-weight:normal;color:#2d504d;transform:scaleX(0.974);-webkit-text-stroke:0.6px #2d504d;">S = 12 311,3 га</div>
<div class="t" style="left:768.7px;top:743.9px;font-size:12.5px;font-weight:bold;color:#fff;transform:scaleX(0.612);">НОВИЙ</div>
<div class="t" style="left:79.5px;top:327.6px;font-size:12.21px;font-weight:normal;color:#4d4d4d;transform:scaleX(1.048);-webkit-text-stroke:0.5px #4d4d4d;">11 указів розроблених</div>
<div class="t" style="left:79.5px;top:342.0px;font-size:12.21px;font-weight:normal;color:#4d4d4d;transform:scaleX(1.024);-webkit-text-stroke:0.5px #4d4d4d;">Мінприроди</div>
<div class="t" style="left:79.5px;top:363.0px;font-size:12.21px;font-weight:normal;color:#4d4d4d;transform:scaleX(0.994);-webkit-text-stroke:0.5px #4d4d4d;">більшість нових</div>
<div class="t" style="left:79.5px;top:378.3px;font-size:12.21px;font-weight:normal;color:#4d4d4d;transform:scaleX(1.024);-webkit-text-stroke:0.5px #4d4d4d;">територій є об’єктами</div>
<div class="t" style="left:79.5px;top:392.5px;font-size:12.21px;font-weight:normal;color:#4d4d4d;transform:scaleX(1.025);-webkit-text-stroke:0.5px #4d4d4d;">Смарагдової мережі</div>
<div class="t" style="left:669.3px;top:62.6px;font-size:8.72px;font-weight:normal;color:#4d4d4d;transform:scaleX(1.256);-webkit-text-stroke:0.35px #4d4d4d;">Міністерство екології</div>
<div class="t" style="left:622.4px;top:72.9px;font-size:8.72px;font-weight:normal;color:#4d4d4d;transform:scaleX(1.241);-webkit-text-stroke:0.35px #4d4d4d;">та природних ресурсів України</div>
<div class="t" style="left:815.0px;top:80.2px;font-size:11.34px;font-weight:normal;color:#555;transform:scaleX(0.769);-webkit-text-stroke:0.3px #555;">ПРИРОДНО-ЗАПОВІДНИЙ</div>
<div class="t" style="left:836.6px;top:90.4px;font-size:11.34px;font-weight:normal;color:#8cc63f;transform:scaleX(0.794);">ФОНД</div>
<div class="t" style="left:863.6px;top:90.4px;font-size:11.34px;font-weight:normal;color:#555;transform:scaleX(0.813);-webkit-text-stroke:0.3px #555;">УКРАЇНИ</div>
</body></html>
